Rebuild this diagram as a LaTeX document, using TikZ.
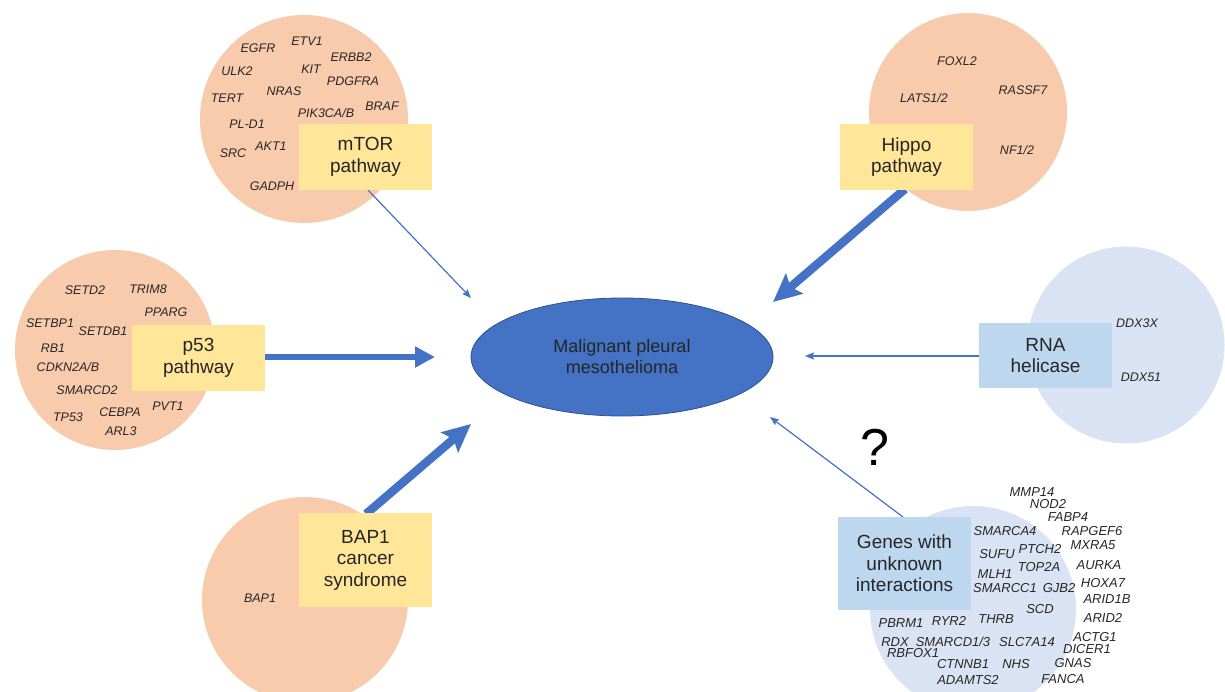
\documentclass[tikz,border=0pt]{standalone}
\usepackage{fontspec}
\setmainfont{Liberation Sans}
\usetikzlibrary{arrows.meta,shapes.geometric}
\definecolor{peach}{HTML}{F8CBAD}
\definecolor{lblue}{HTML}{DAE3F3}
\definecolor{boxyellow}{HTML}{FFE699}
\definecolor{boxblue}{HTML}{BDD7EE}
\definecolor{arrblue}{HTML}{4472C4}
\definecolor{edgeblue}{HTML}{2F528F}
\definecolor{txt}{HTML}{262626}
\tikzset{
  bubble/.style={circle, inner sep=0pt, minimum size=#1},
  gene/.style={font=\fontsize{12.5}{14}\selectfont\itshape, text=txt, inner sep=0pt},
  geneb/.style={font=\fontsize{13}{15}\selectfont\itshape, text=txt, inner sep=0pt},
  catbox/.style={inner sep=0pt, minimum width=133pt, align=center, text=txt,
    font=\fontsize{19}{21.5}\selectfont},
  thin/.style={draw=arrblue, line width=1.2pt, -{Stealth[length=9pt,width=7pt,inset=1.5pt]}},
  thick/.style={draw=arrblue, line width=8.5pt, -{Stealth[length=28pt,width=26pt,inset=5pt]}},
  medium/.style={draw=arrblue, line width=6.5pt, -{Triangle[length=20pt,width=20pt]}}
}
\begin{document}
\begin{tikzpicture}[x=1pt,y=-1pt]
\useasboundingbox (0,0) rectangle (1225,692);
\clip (0,0) rectangle (1225,692);
% circles
\node[bubble=208pt, fill=peach] (cmtor) at (304,119) {};
\node[bubble=200pt, fill=peach] (cp53) at (115,350) {};
\node[bubble=206pt, fill=peach] (cbap) at (305,600) {};
\node[bubble=198pt, fill=peach] (chippo) at (968,112) {};
\node[bubble=197pt, fill=lblue] (crna) at (1126,345) {};
\node[bubble=206pt, fill=lblue] (cunk) at (973,609) {};
% mTOR genes
\node[gene] (g1) at (258,48) {EGFR};
\node[gene] (g2) at (307,41) {ETV1};
\node[gene] (g3) at (351,57) {ERBB2};
\node[gene] (g4) at (237,71) {ULK2};
\node[gene] (g5) at (311,69) {KIT};
\node[gene] (g6) at (353,81) {PDGFRA};
\node[gene] (g7) at (227,98) {TERT};
\node[gene] (g8) at (284,91) {NRAS};
\node[gene] (g9) at (382,106) {BRAF};
\node[gene] (g10) at (326,113) {PIK3CA/B};
\node[gene] (g11) at (247,124) {PL-D1};
\node[gene] (g12) at (233,153) {SRC};
\node[gene] (g13) at (271,146) {AKT1};
\node[gene] (g14) at (272,186) {GADPH};
% p53 genes
\node[gene] (p1) at (85,290) {SETD2};
\node[gene] (p2) at (148,289) {TRIM8};
\node[gene] (p3) at (166,312) {PPARG};
\node[gene] (p4) at (50,323) {SETBP1};
\node[gene] (p5) at (103,331) {SETDB1};
\node[gene] (p6) at (53,348) {RB1};
\node[gene] (p7) at (68,367) {CDKN2A/B};
\node[gene] (p8) at (87,390) {SMARCD2};
\node[gene] (p9) at (168,406) {PVT1};
\node[gene] (p10) at (120,412) {CEBPA};
\node[gene] (p11) at (68,417) {TP53};
\node[gene] (p12) at (121,431) {ARL3};
% BAP1 gene
\node[gene] (b1) at (260,598) {BAP1};
% Hippo genes
\node[gene] (h1) at (957,61) {FOXL2};
\node[gene] (h2) at (924,98) {LATS1/2};
\node[gene] (h3) at (1023,90) {RASSF7};
\node[gene] (h4) at (1017,150) {NF1/2};
% RNA helicase genes
\node[gene] (r1) at (1137,323) {DDX3X};
\node[gene] (r2) at (1141,377) {DDX51};
% unknown genes
\node[geneb] (u1) at (1032,492) {MMP14};
\node[geneb] (u2) at (1048,504) {NOD2};
\node[geneb] (u3) at (1068,517) {FABP4};
\node[geneb] (u4) at (1092,531) {RAPGEF6};
\node[geneb] (u5) at (1093,545) {MXRA5};
\node[geneb] (u6) at (1099,565) {AURKA};
\node[geneb] (u7) at (1103,583) {HOXA7};
\node[geneb] (u8) at (1107,599) {ARID1B};
\node[geneb] (u9) at (1103,618) {ARID2};
\node[geneb] (u10) at (1095,637) {ACTG1};
\node[geneb] (u11) at (1087,649) {DICER1};
\node[geneb] (u12) at (1073,663) {GNAS};
\node[geneb] (u13) at (1063,679) {FANCA};
\node[geneb] (u14) at (1005,531) {SMARCA4};
\node[geneb] (u15) at (1040,549) {PTCH2};
\node[geneb] (u16) at (997,554) {SUFU};
\node[geneb] (u17) at (1039,567) {TOP2A};
\node[geneb] (u18) at (995,574) {MLH1};
\node[geneb] (u19) at (1005,588) {SMARCC1};
\node[geneb] (u20) at (1059,588) {GJB2};
\node[geneb] (u21) at (1040,609) {SCD};
\node[geneb] (u22) at (996,619) {THRB};
\node[geneb] (u23) at (949,621) {RYR2};
\node[geneb] (u24) at (901,623) {PBRM1};
\node[geneb] (u25) at (895,642) {RDX};
\node[geneb] (u26) at (953,642) {SMARCD1/3};
\node[geneb] (u27) at (1027,642) {SLC7A14};
\node[geneb] (u28) at (913,653) {RBFOX1};
\node[geneb] (u29) at (963,664) {CTNNB1};
\node[geneb] (u30) at (1016,664) {NHS};
\node[geneb] (u31) at (968,680) {ADAMTS2};
% central ellipse
\node[ellipse, fill=arrblue, draw=edgeblue, line width=0.8pt, minimum width=302pt,
  minimum height=118pt, inner sep=0pt, align=center, text=txt,
  font=\fontsize{18}{21}\selectfont] (mpm) at (622,357) {Malignant pleural\\mesothelioma};
% arrow end points
\coordinate (tipM) at (471,298);
\coordinate (tipP) at (435,357);
\coordinate (tipB) at (471,424);
\coordinate (tipH) at (773,302);
\coordinate (tipR) at (805,356);
\coordinate (tipU) at (770,417);
\coordinate (sM) at (368,190);
\coordinate (sP) at (265,357);
\coordinate (sB) at (366,514);
\coordinate (sH) at (905,189);
\coordinate (sR) at (979,356);
\coordinate (sU) at (903,517);
% arrows
\draw[thin] (sM) -- (tipM);
\draw[medium] (sP) -- (tipP);
\draw[thick] (sB) -- (tipB);
\draw[thick] (sH) -- (tipH);
\draw[thin] (sR) -- (tipR);
\draw[thin] (sU) -- (tipU);
% category boxes
\node[catbox, fill=boxyellow, minimum height=66pt] (mtor) at (365.5,157) {mTOR\\pathway};
\node[catbox, fill=boxyellow, minimum height=66pt] (p53) at (198.5,358) {p53\\pathway};
\node[catbox, fill=boxyellow, minimum height=94pt] (bap) at (365.5,560) {BAP1\\cancer\\syndrome};
\node[catbox, fill=boxyellow, minimum height=66pt] (hippo) at (906.5,157) {Hippo\\pathway};
\node[catbox, fill=boxblue, minimum height=65pt] (rna) at (1045.5,355.5) {RNA\\helicase};
\node[catbox, fill=boxblue, minimum height=93pt] (unk) at (904.5,563.5) {Genes with\\unknown\\interactions};
% question mark
\node[font=\fontsize{52}{52}\selectfont, text=black, inner sep=0pt] (q) at (875,447) {?};
\end{tikzpicture}
\end{document}
